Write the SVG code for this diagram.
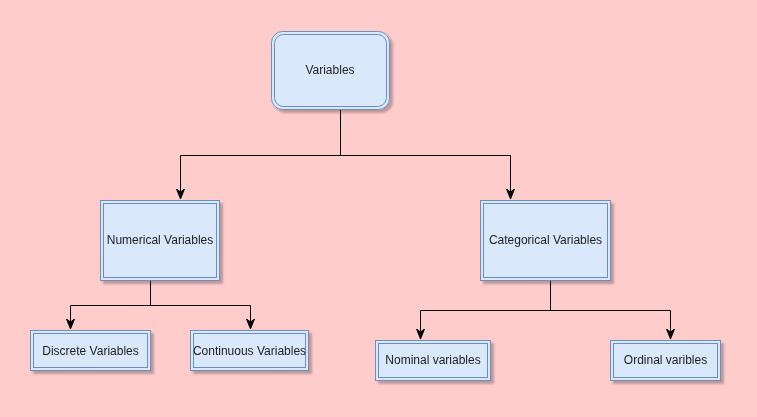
<svg xmlns="http://www.w3.org/2000/svg" width="757" height="417" viewBox="0 0 757 417">
<style>
.box{fill:#dae8fc;stroke:#6c8ebf;stroke-width:1}
.inner{fill:none;stroke:#6c8ebf;stroke-width:1}
.lbl{font-family:"Liberation Sans",Arial,sans-serif;font-size:12px;fill:#222;text-anchor:middle;dominant-baseline:central}
.edge{fill:none;stroke:#000;stroke-width:1}
</style>
<defs>
<filter id="sh" x="-10%" y="-10%" width="130%" height="130%">
<feDropShadow dx="3" dy="3" stdDeviation="1.2" flood-color="#000" flood-opacity="0.25"/>
</filter>
<marker id="arr" markerWidth="12" markerHeight="12" refX="10" refY="5" orient="auto" markerUnits="userSpaceOnUse" viewBox="0 0 12 10">
<path d="M0,1 L10,5 L0,9 L3,5 Z" fill="#000" stroke="#000" stroke-width="1"/>
</marker>
</defs>
<rect width="757" height="417" fill="#ffcccc"/>
<g id="connectors">
<path class="edge" d="M340.5,109 V155.5 H180.5 V199" marker-end="url(#arr)"/>
<path class="edge" d="M340.5,155.5 H510.5 V199" marker-end="url(#arr)"/>
<path class="edge" d="M150.5,280 V305.5 H70.5 V329" marker-end="url(#arr)"/>
<path class="edge" d="M150.5,305.5 H250.5 V329" marker-end="url(#arr)"/>
<path class="edge" d="M550.5,280 V310.5 H420.5 V339" marker-end="url(#arr)"/>
<path class="edge" d="M550.5,310.5 H670.5 V339" marker-end="url(#arr)"/>
</g>
<g id="variables" filter="url(#sh)">
<rect class="box" x="271.5" y="31.5" width="118" height="78" rx="11"/>
<rect class="inner" x="274.5" y="34.5" width="112" height="72" rx="9"/>
<text class="lbl" x="330" y="70">Variables</text>
</g>
<g id="numerical" filter="url(#sh)">
<rect class="box" x="100.5" y="200.5" width="119" height="80"/>
<rect class="inner" x="103.5" y="203.5" width="113" height="74"/>
<text class="lbl" x="160" y="240">Numerical Variables</text>
</g>
<g id="categorical" filter="url(#sh)">
<rect class="box" x="480.5" y="200.5" width="130" height="80"/>
<rect class="inner" x="483.5" y="203.5" width="124" height="74"/>
<text class="lbl" x="545.5" y="240">Categorical Variables</text>
</g>
<g id="discrete" filter="url(#sh)">
<rect class="box" x="30.5" y="330.5" width="120" height="40"/>
<rect class="inner" x="33.5" y="333.5" width="114" height="34"/>
<text class="lbl" x="90.5" y="351">Discrete Variables</text>
</g>
<g id="continuous" filter="url(#sh)">
<rect class="box" x="190.5" y="330.5" width="118" height="40"/>
<rect class="inner" x="193.5" y="333.5" width="112" height="34"/>
<text class="lbl" x="249.5" y="351">Continuous Variables</text>
</g>
<g id="nominal" filter="url(#sh)">
<rect class="box" x="375.5" y="340.5" width="115" height="40"/>
<rect class="inner" x="378.5" y="343.5" width="109" height="34"/>
<text class="lbl" x="433" y="360">Nominal variables</text>
</g>
<g id="ordinal" filter="url(#sh)">
<rect class="box" x="610.5" y="340.5" width="110" height="40"/>
<rect class="inner" x="613.5" y="343.5" width="104" height="34"/>
<text class="lbl" x="665.5" y="360">Ordinal varibles</text>
</g>
</svg>
